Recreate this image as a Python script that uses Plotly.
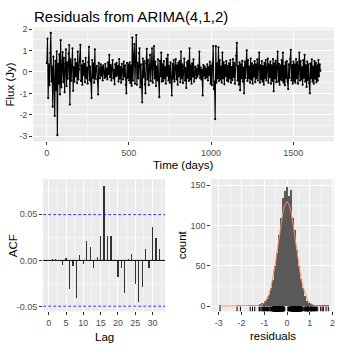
import plotly.graph_objects as go

# ---------------- data ----------------
title_text = "Residuals from ARIMA(4,1,2)"
time_step_days = 4
time_start_day = 1
residuals = [
    0.42, 1.55, -1.22, 0.35, -0.62, 0.88, 1.82, -0.45, 0.25, -1.62, 0.71, -0.38, -2.05, 0.52, -0.85, 0.96,
    -2.95, 0.38, -0.55, 0.82, -1.05, 1.48, -0.72, 0.15, 0.92, -0.48, 0.65, -0.95, 0.38, 1.05, -0.66, 0.45,
    -0.32, 0.85, 1.25, -1.52, 0.58, -0.41,
    0.32, 1.1, -0.88, 0.22, -0.45, 0.58, -0.2, 0.41, -0.52, 0.95, -0.35, 0.12, 0.48, 1.26, -0.42, 0.3,
    -0.6, 0.52, -0.15, 0.38, -0.48, 0.66, -0.3, 0.2, -0.55, 0.45, 1.17, -0.38, 0.25, -0.46, -1.22, 0.55,
    -0.28, 0.4, -0.5, 1.05, -0.32, 0.18,
    0.28, -0.35, -1.05, 0.42, 0.1, -0.3, 0.35, -0.18, 0.25, -0.4, 0.3, 0.05, -0.28, 0.38, -0.22, 0.15,
    -0.35, 0.45, -0.1, 0.8, -0.25, 0.32, -0.4, 0.2, 0.55, -0.3, 0.1, -0.58, 0.35, -0.2, 0.42, -0.15,
    0.28, -0.45, 0.6, -0.32, 0.22, -0.5, 0.38, 0.05, -0.35, 0.48, -0.22, 0.3, -0.6, -1.0, 0.42, -0.28,
    0.35, -0.4,
    0.45, -0.52, 0.3, -0.65, 1.6, -0.4, 0.68, 1.3, -0.55, 0.25, 1.72, -0.6, 0.42, -0.3, 0.88, 1.1,
    -0.72, 0.35, -0.48, -1.42, 0.62, -0.25, 0.5, -0.58, -1.0, 0.4, 1.07, -0.35, 0.55, -0.62, 0.3, 0.8,
    -0.42, 0.15, 1.1, -0.5, 0.38, 1.2, -0.3, 0.48, -0.66, 0.25, -0.4, 0.58, -0.35, -1.18, 0.52, -0.2,
    0.9, -0.45,
    0.35, -0.42, 0.5, -0.3, 0.22, -0.55, 0.62, -0.18, 0.8, -0.4, 0.28, -0.5, 0.45, -0.25, -1.1, 0.38,
    -0.32, 0.55, -0.45, 0.2, 0.6, -0.35, 0.3, -0.6, 0.42, -0.2, 0.5, -0.48, 0.95, -0.3, 0.35, -0.52,
    0.25, 0.62, -0.4, 0.18, -0.75, 0.45, -0.28, 0.52, -0.42, 1.1, -0.35, 0.3, -0.55, 0.4, -0.22, 0.58,
    -0.45, 0.2,
    0.25, -0.3, 0.15, -0.22, 0.3, -0.12, 0.95, -0.28, 0.2, -0.35, 0.1, -1.1, 0.32, -0.18, 0.25, -0.3,
    0.15, -0.25, 0.35, -0.4, 0.22, -0.15, 0.48, -0.55, 0.3, -0.62, 0.4, 1.2, -0.8, -0.45, -2.2, 1.2,
    -0.5, 0.4, -0.3, 1.15, -0.42, 0.55, -0.35, 0.25, -0.5, 0.9, -0.3, 0.45, -0.58, 0.32, -0.2, 0.5,
    -0.4, 0.28,
    -0.45, 0.4, -0.3, 0.55, -0.5, 0.22, -0.38, 0.6, -0.25, 0.42, -0.55, 0.3, 0.75, 1.35, -0.4, 0.28,
    -0.6, 0.45, -0.85, 0.35, -0.3, 0.52, -0.45, 0.2, -1.0, 0.48, -0.28, 0.35, 1.0, -0.42, 0.55, -0.3,
    0.25, -0.5, 0.62, -0.35, 0.4, -0.55, 0.3, -0.22, 0.5, -0.48, 0.35, -0.3, 0.58, -0.4, 0.2, 0.9,
    -0.5, 0.3,
    -0.35, 0.5, -0.45, 0.28, -0.6, 0.42, -0.3, 0.55, -0.4, 0.2, 0.62, -0.5, 0.35, -0.25, 0.48, -0.55,
    0.3, -0.42, 0.6, -0.9, 0.4, -0.3, 0.52, -0.48, 0.25, 0.95, -0.45, 0.38, -0.6, 0.3, -0.35, 0.55,
    -0.4, 0.9, -0.5, 0.28, -0.62, 0.45, -0.3, 0.5, -0.45, -0.8, 0.35, -0.28, 0.6, 1.03, -0.4, 0.32,
    -0.55, 0.48,
    -0.42, 0.35, -0.5, 0.6, -0.3, 0.45, -0.55, 0.28, 0.9, -0.4, 0.5, -0.35, 0.22, -0.6, 0.55, -0.28,
    0.8, -0.45, 0.3, -0.7, 0.48, -0.38, 0.35, -0.52, -1.0, 0.4, -0.3, 0.58, -0.45, 0.25, -0.55, 0.5,
    -0.32, 0.42, -0.48, 0.3, -0.4, 0.55, -0.2, 0.35, 0.05,
]
days = [time_start_day + time_step_days * i for i in range(len(residuals))]

acf_lags = list(range(1, 33))
acf_vals = [0.0015, 0.0015, 0.0005, -0.0045, 0.0025, -0.031, -0.0055, -0.041, 0.0057, -0.0043,
            0.0206, 0.015, -0.0082, 0.0036, 0.026, 0.0805, 0.026, 0.026, -0.0007, -0.018,
            -0.0082, -0.0356, 0.0018, 0.0071, -0.0253, -0.045, -0.0288, 0.0125, -0.0082, 0.0356,
            0.0242, 0.0125]
acf_ci = 0.0494

hist_start = -3.015
hist_binwidth = 0.09
hist_counts = [1, 0, 0, 0, 0, 0, 0, 0, 0, 1, 1, 0, 0, 0, 0, 1, 1, 2, 1, 2, 3, 4, 6, 9, 14, 22, 32, 50,
               66, 88, 110, 134, 143, 148, 137, 144, 110, 94, 70, 50, 34, 22, 13, 7, 4, 3, 2, 2, 1, 1,
               1, 1, 1, 1]
hist_centers = [hist_start + hist_binwidth * (i + 0.5) for i in range(len(hist_counts))]

norm_x = [-3.0, -2.9, -2.8, -2.7, -2.6, -2.5, -2.4, -2.3, -2.2, -2.1, -2.0, -1.9, -1.8, -1.7, -1.6,
          -1.5, -1.4, -1.3, -1.2, -1.1, -1.0, -0.9, -0.8, -0.7, -0.6, -0.5, -0.4, -0.3, -0.2, -0.1,
          0.0, 0.1, 0.2, 0.3, 0.4, 0.5, 0.6, 0.7, 0.8, 0.9, 1.0, 1.1, 1.2, 1.3, 1.4, 1.5, 1.6, 1.7, 1.8]
norm_y = [0, 0, 0, 0, 0, 0, 0, 0, 0, 0, 0, 0, 0, 0, 0,
          0, 0.1, 0.4, 0.9, 2.0, 4.1, 7.9, 14.2, 23.8, 37.4, 54.7, 74.7, 95.2, 113.2, 125.6,
          130, 125.6, 113.2, 95.2, 74.7, 54.7, 37.4, 23.8, 14.2, 7.9, 4.1, 2.0, 0.9, 0.4, 0.1, 0, 0, 0, 0]

time_ticks = [0, 500, 1000, 1500]
flux_ticks = [-3, -2, -1, 0, 1, 2]
acf_xticks = [0, 5, 10, 15, 20, 25, 30]
acf_yticks = [-0.05, 0.0, 0.05]
acf_yticktext = ["-0.05", "0.00", "0.05"]
hist_xticks = [-3, -2, -1, 0, 1, 2]
hist_yticks = [0, 50, 100, 150]

# ---------------- layout helpers ----------------
W, H = 342, 348
FONT = "Liberation Sans, Arial, sans-serif"
PANEL_BG = "#EBEBEB"


def px(x):
    return x / W


def py(y):
    return 1 - y / H


def axis(domain, anchor, rng, tickvals, ticktext, minor_vals):
    return dict(
        domain=domain, anchor=anchor, range=rng, tickvals=tickvals, ticktext=ticktext,
        showgrid=True, gridcolor="white", gridwidth=1, zeroline=False, showline=False,
        ticks="outside", ticklen=3, tickwidth=1, tickcolor="#333333",
        tickfont=dict(family=FONT, size=9, color="#4D4D4D"),
        minor=dict(tickvals=minor_vals, showgrid=True, gridcolor="white", gridwidth=0.5, ticks=""),
        fixedrange=True,
    )


def lbl(v):
    return str(v)


fig = go.Figure()

# --- top: residual time series ---
fig.add_trace(go.Scatter(
    x=days, y=residuals, mode="lines+markers",
    line=dict(color="black", width=1.1), marker=dict(color="black", size=2.2),
    xaxis="x", yaxis="y", showlegend=False, hoverinfo="skip"))

# --- bottom-left: ACF ---
fig.add_trace(go.Bar(
    x=acf_lags, y=acf_vals, width=0.35, marker=dict(color="#333333", line=dict(width=0)),
    xaxis="x2", yaxis="y2", showlegend=False, hoverinfo="skip"))

# --- bottom-right: histogram, normal curve, rug ---
fig.add_trace(go.Bar(
    x=hist_centers, y=hist_counts, width=hist_binwidth,
    marker=dict(color="#595959", line=dict(width=0)),
    xaxis="x3", yaxis="y3", showlegend=False, hoverinfo="skip"))
fig.add_trace(go.Scatter(
    x=norm_x, y=norm_y, mode="lines", line=dict(color="#ff8a62", width=1),
    xaxis="x3", yaxis="y3", showlegend=False, hoverinfo="skip"))

hist_yrange = [-6.5, 157.5]
rug_top = hist_yrange[0] + 0.03 * (hist_yrange[1] - hist_yrange[0])
rug_x, rug_y = [], []
for v in residuals:
    rug_x += [v, v, None]
    rug_y += [hist_yrange[0], rug_top + 1, None]
fig.add_trace(go.Scatter(
    x=rug_x, y=rug_y, mode="lines", line=dict(color="black", width=1),
    xaxis="x3", yaxis="y3", showlegend=False, hoverinfo="skip"))

top_dom_x = [px(33.3), px(335)]
top_dom_y = [py(139), py(24)]
acf_dom_x = [px(43.3), px(165.5)]
bot_dom_y = [py(311), py(177.3)]
hist_dom_x = [px(212), px(335)]

fig.update_layout(
    width=W, height=H, margin=dict(l=0, r=0, t=0, b=0),
    paper_bgcolor="white", plot_bgcolor=PANEL_BG, bargap=0, barmode="overlay",
    xaxis=axis(top_dom_x, "y", [-82, 1748], time_ticks, [lbl(t) for t in time_ticks], [250, 750, 1250]),
    yaxis=axis(top_dom_y, "x", [-3.24, 2.06], flux_ticks, [lbl(t) for t in flux_ticks],
               [-2.5, -1.5, -0.5, 0.5, 1.5]),
    xaxis2=axis(acf_dom_x, "y2", [-1.6, 33.6], acf_xticks, [lbl(t) for t in acf_xticks],
                [2.5, 7.5, 12.5, 17.5, 22.5, 27.5, 32.5]),
    yaxis2=axis(bot_dom_y, "x2", [-0.055, 0.0875], acf_yticks, acf_yticktext, [-0.025, 0.025, 0.075]),
    xaxis3=axis(hist_dom_x, "y3", [-3.33, 2.07], hist_xticks, [lbl(t) for t in hist_xticks],
                [-2.5, -1.5, -0.5, 0.5, 1.5]),
    yaxis3=axis(bot_dom_y, "x3", hist_yrange, hist_yticks, [lbl(t) for t in hist_yticks], [25, 75, 125]),
)

# ACF reference lines
fig.add_shape(type="line", xref="x2 domain", yref="y2", x0=0, x1=1, y0=0, y1=0,
              line=dict(color="black", width=1), layer="above")
for c in (acf_ci, -acf_ci):
    fig.add_shape(type="line", xref="x2 domain", yref="y2", x0=0, x1=1, y0=c, y1=c,
                  line=dict(color="#0000FF", width=0.8, dash="3px,2px"), layer="above")

# titles
ann = [
    dict(text=title_text, x=px(32.5), y=py(13), xanchor="left", yanchor="middle",
         font=dict(family=FONT, size=15, color="black")),
    dict(text="Flux (Jy)", x=px(10), y=py(81.5), textangle=-90, xanchor="center", yanchor="middle",
         font=dict(family=FONT, size=11.5, color="black")),
    dict(text="Time (days)", x=px(184), y=py(163), xanchor="center", yanchor="middle",
         font=dict(family=FONT, size=11.5, color="black")),
    dict(text="ACF", x=px(13), y=py(244), textangle=-90, xanchor="center", yanchor="middle",
         font=dict(family=FONT, size=11.5, color="black")),
    dict(text="Lag", x=px(104.4), y=py(336.5), xanchor="center", yanchor="middle",
         font=dict(family=FONT, size=11.5, color="black")),
    dict(text="count", x=px(182.7), y=py(244), textangle=-90, xanchor="center", yanchor="middle",
         font=dict(family=FONT, size=11.5, color="black")),
    dict(text="residuals", x=px(273.5), y=py(336), xanchor="center", yanchor="middle",
         font=dict(family=FONT, size=11.5, color="black")),
]
for a in ann:
    a.update(xref="paper", yref="paper", showarrow=False)
fig.update_layout(annotations=ann)

fig.write_html(
    "out.html",
    config={"displayModeBar": False, "staticPlot": True},
    post_script="document.body.style.margin='0';document.body.style.overflow='hidden';",
)
